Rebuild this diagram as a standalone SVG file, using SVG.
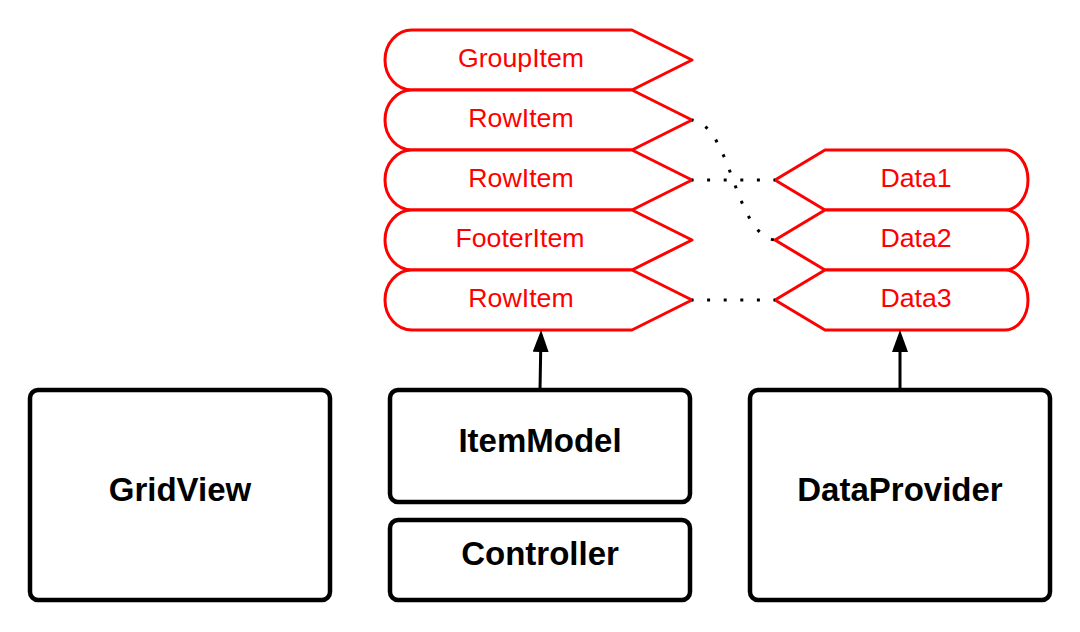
<svg xmlns="http://www.w3.org/2000/svg" width="1080" height="632" viewBox="0 0 1080 632">
  <style>
    .item { fill: #ffffff; stroke: #ff0000; stroke-width: 3; stroke-linejoin: round; }
    .item-label { font-family: "Liberation Sans", Arial, sans-serif; font-size: 26.7px; fill: #ff0000; text-anchor: middle; }
    .box { fill: #ffffff; stroke: #000000; stroke-width: 4.5; }
    .box-label { font-family: "Liberation Sans", Arial, sans-serif; font-size: 33px; font-weight: bold; fill: #000000; text-anchor: middle; }
    .link { fill: none; stroke: #000000; stroke-width: 3; stroke-dasharray: 3 13.6; stroke-dashoffset: 1.5; }
    .arrow { fill: none; stroke: #000000; stroke-width: 3; marker-end: url(#head); }
  </style>
  <defs>
    <marker id="head" markerUnits="userSpaceOnUse" markerWidth="22" markerHeight="16" refX="7" refY="8" orient="auto" viewBox="0 0 22 16">
      <path d="M0,0 L22,8 L0,16 Z" fill="#000000"/>
    </marker>
  </defs>

  <!-- Model items (left column) -->
  <g id="item-group">
    <path class="item" d="M412,30 L632,30 L692,60 L632,90 L412,90 A27,30 0 0 1 412,30 Z"/>
    <text class="item-label" x="521" y="67">GroupItem</text>
  </g>
  <g id="item-row1">
    <path class="item" d="M412,90 L632,90 L692,120 L632,150 L412,150 A27,30 0 0 1 412,90 Z"/>
    <text class="item-label" x="521" y="127">RowItem</text>
  </g>
  <g id="item-row2">
    <path class="item" d="M412,150 L632,150 L692,180 L632,210 L412,210 A27,30 0 0 1 412,150 Z"/>
    <text class="item-label" x="521" y="187">RowItem</text>
  </g>
  <g id="item-footer">
    <path class="item" d="M412,210 L632,210 L692,240 L632,270 L412,270 A27,30 0 0 1 412,210 Z"/>
    <text class="item-label" x="520" y="247">FooterItem</text>
  </g>
  <g id="item-row3">
    <path class="item" d="M412,270 L632,270 L692,300 L632,330 L412,330 A27,30 0 0 1 412,270 Z"/>
    <text class="item-label" x="521" y="307">RowItem</text>
  </g>

  <!-- Data records (right column) -->
  <g id="data1">
    <path class="item" d="M825,150 L1005,150 A23,30 0 0 1 1005,210 L825,210 L775,180 Z"/>
    <text class="item-label" x="916" y="187">Data1</text>
  </g>
  <g id="data2">
    <path class="item" d="M825,210 L1005,210 A23,30 0 0 1 1005,270 L825,270 L775,240 Z"/>
    <text class="item-label" x="916" y="247">Data2</text>
  </g>
  <g id="data3">
    <path class="item" d="M825,270 L1005,270 A23,30 0 0 1 1005,330 L825,330 L775,300 Z"/>
    <text class="item-label" x="916" y="307">Data3</text>
  </g>

  <!-- Components -->
  <g id="gridview">
    <rect class="box" x="30" y="390" width="300" height="210" rx="8"/>
    <text class="box-label" x="180" y="501">GridView</text>
  </g>
  <g id="itemmodel">
    <rect class="box" x="390" y="390" width="300" height="112" rx="8"/>
    <text class="box-label" x="540" y="452">ItemModel</text>
  </g>
  <g id="controller">
    <rect class="box" x="390" y="520" width="300" height="80" rx="8"/>
    <text class="box-label" x="540" y="565">Controller</text>
  </g>
  <g id="dataprovider">
    <rect class="box" x="750" y="390" width="300" height="210" rx="8"/>
    <text class="box-label" x="900" y="501">DataProvider</text>
  </g>

  <!-- Connectors -->
  <g id="connectors">
    <path class="link" d="M692,120 C732,126 734,234 775,240"/>
    <path class="link" d="M692,180 L775,180"/>
    <path class="link" d="M692,300 L775,300"/>
    <path class="arrow" d="M540,390 L540.8,345"/>
    <path class="arrow" d="M900,390 L900,345"/>
  </g>
</svg>
